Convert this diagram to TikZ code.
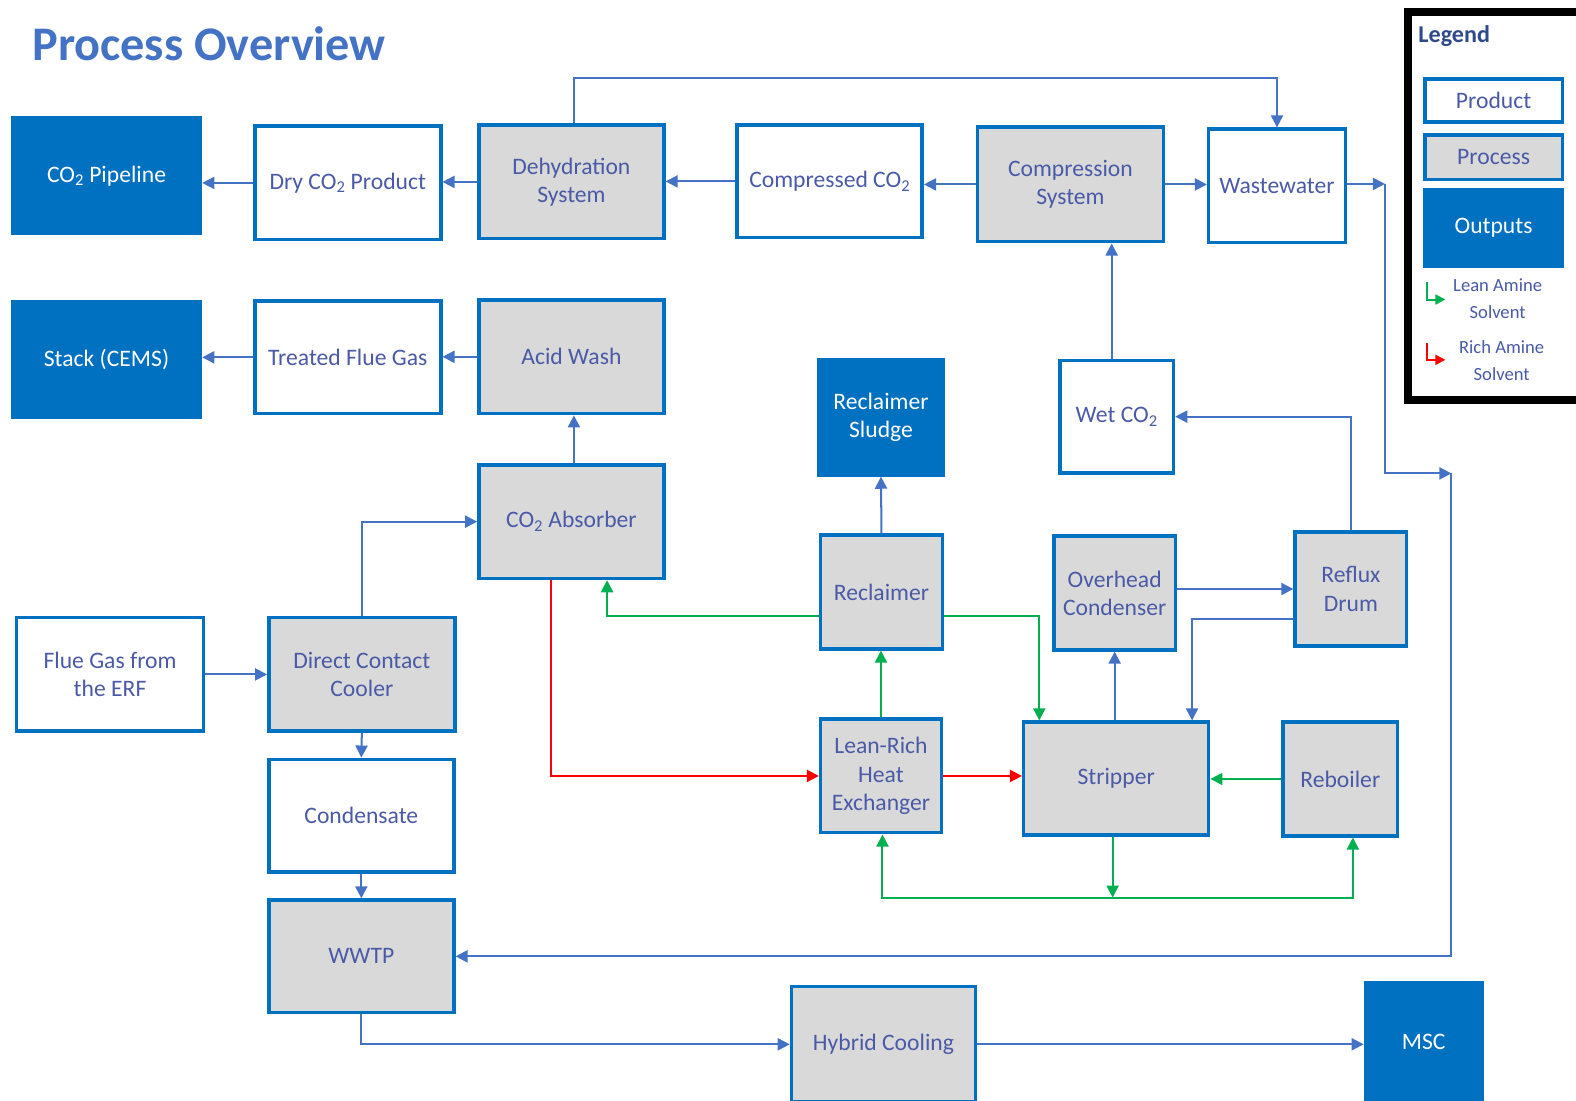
\documentclass[tikz,border=0pt]{standalone}
\usepackage{fontspec}
\setmainfont{Carlito}
\usetikzlibrary{arrows.meta,calc}
\definecolor{boxblue}{HTML}{0070C0}
\definecolor{linkblue}{HTML}{4472C4}
\definecolor{txtblue}{HTML}{4A5AA6}
\definecolor{procgray}{HTML}{D9D9D9}
\definecolor{leangreen}{HTML}{00B050}
\definecolor{richred}{HTML}{FF0000}
\definecolor{titleblue}{HTML}{4472C4}
\definecolor{legdark}{HTML}{2F4A8A}
\begin{document}
\begin{tikzpicture}[x=1pt,y=-1pt,
  base/.style={draw=boxblue,line width=3.5pt,align=center,text=txtblue,inner sep=0pt,
    font=\fontsize{23.5}{28}\selectfont},
  prodbox/.style={base,fill=white},
  procbox/.style={base,fill=procgray},
  outbox/.style={base,fill=boxblue,text=white},
  tip/.style={-{Triangle[length=12pt,width=12pt]}},
  conn/.style={draw=linkblue,line width=2pt,tip},
  gconn/.style={draw=leangreen,line width=2pt,tip},
  rconn/.style={draw=richred,line width=2pt,tip},
  legtxt/.style={align=center,text=txtblue,inner sep=0pt,font=\fontsize{18.5}{27}\selectfont}]
\useasboundingbox (0,0) rectangle (1568,1095);
\fill[white] (0,0) rectangle (1568,1095);

% title
\node[anchor=west,inner sep=0pt,text=titleblue,font=\fontsize{48}{52}\selectfont\bfseries] (title) at (32,44) {Process Overview};

% top row
\node[outbox,minimum width=187pt,minimum height=115pt] (pipe) at (106,175) {CO\textsubscript{2} Pipeline};
\node[prodbox,minimum width=185pt,minimum height=113pt] (dry) at (346,182) {Dry CO\textsubscript{2} Product};
\node[procbox,minimum width=184pt,minimum height=113pt] (dehyd) at (568.5,181) {Dehydration\\System};
\node[prodbox,minimum width=184pt,minimum height=112pt] (comp) at (825.5,180.5) {Compressed CO\textsubscript{2}};
\node[procbox,minimum width=185pt,minimum height=114pt] (compsys) at (1065,183.5) {Compression\\System};
\node[prodbox,minimum width=136pt,minimum height=113pt] (waste) at (1270.5,185) {Wastewater};

% second row
\node[outbox,minimum width=187pt,minimum height=115pt] (stack) at (106,358) {Stack (CEMS)};
\node[prodbox,minimum width=185pt,minimum height=112pt] (treated) at (346,355.5) {Treated Flue Gas};
\node[procbox,minimum width=184pt,minimum height=113pt] (acid) at (568.5,355) {Acid Wash};

\node[procbox,minimum width=184pt,minimum height=113pt] (absorber) at (568.5,519) {CO\textsubscript{2} Absorber};
\node[outbox,minimum width=124pt,minimum height=115pt] (sludge) at (876.5,415) {Reclaimer\\Sludge};
\node[prodbox,minimum width=113pt,minimum height=112pt] (wet) at (1111,414.5) {Wet CO\textsubscript{2}};

\node[procbox,minimum width=121pt,minimum height=113pt] (reclaimer) at (877,589) {Reclaimer};
\node[procbox,minimum width=121pt,minimum height=113pt] (overhead) at (1109,590) {Overhead\\Condenser};
\node[procbox,minimum width=111pt,minimum height=113pt] (reflux) at (1344,586) {Reflux\\Drum};

\node[prodbox,minimum width=186pt,minimum height=113pt] (flue) at (109.5,671) {Flue Gas from\\the ERF};
\node[procbox,minimum width=185pt,minimum height=113pt] (dcc) at (360,671) {Direct Contact\\Cooler};
\node[prodbox,minimum width=184pt,minimum height=112pt] (cond) at (359.5,811.5) {Condensate};
\node[procbox,minimum width=184pt,minimum height=112pt] (wwtp) at (359.5,951.5) {WWTP};

\node[procbox,minimum width=120pt,minimum height=113pt] (lrhx) at (876.5,772) {Lean-Rich\\Heat\\Exchanger};
\node[procbox,minimum width=184pt,minimum height=112pt] (stripper) at (1110.5,774.5) {Stripper};
\node[procbox,minimum width=114pt,minimum height=113pt] (reboiler) at (1333.5,775) {Reboiler};

\node[procbox,minimum width=183pt,minimum height=115pt] (hybrid) at (879,1039) {Hybrid Cooling};
\node[outbox,minimum width=116pt,minimum height=118pt] (msc) at (1416.5,1037) {MSC};

% legend
\draw[black,line width=8pt] (1401,12) rectangle (1590,398);
\node[anchor=west,inner sep=0pt,text=legdark,font=\fontsize{24}{28}\selectfont\bfseries] (legtitle) at (1411,36) {Legend};
\node[prodbox,minimum width=137pt,minimum height=43pt] (lprod) at (1486,100) {Product};
\node[procbox,minimum width=137pt,minimum height=44pt] (lproc) at (1486,156.5) {Process};
\node[outbox,minimum width=137pt,minimum height=76pt] (lout) at (1486,226.5) {Outputs};
\coordinate (lga) at (1420,281);
\coordinate (lgb) at (1438,298);
\draw[leangreen,line width=2pt,-{Triangle[length=10pt,width=10pt]}] (lga) |- (lgb);
\node[legtxt] (lgt) at (1490,297) {Lean Amine\\Solvent};
\coordinate (lra) at (1420,341);
\coordinate (lrb) at (1438,358);
\draw[richred,line width=2pt,-{Triangle[length=10pt,width=10pt]}] (lra) |- (lrb);
\node[legtxt] (lrt) at (1494,359) {Rich Amine\\Solvent};

% blue connectors, top rows
\draw[conn] (dry.west) -- (dry.west -| pipe.east);
\draw[conn] (dehyd.west) -- (dehyd.west -| dry.east);
\draw[conn] (comp.west) -- (comp.west -| dehyd.east);
\draw[conn] (compsys.west) -- (compsys.west -| comp.east);
\draw[conn] (compsys.east) -- (compsys.east -| waste.west);
\draw[conn] ([xshift=2.5pt]dehyd.north) -- ++(0,-45) -| (waste.north);
\draw[conn] (treated.west) -- (treated.west -| stack.east);
\draw[conn] (acid.west) -- (acid.west -| treated.east);
\draw[conn] ([xshift=2.5pt]absorber.north) -- ([xshift=2.5pt]acid.south);
\draw[conn] ([xshift=-5pt]wet.north) -- ([xshift=-5pt]wet.north |- compsys.south);

% wastewater to WWTP
\coordinate (w1) at (1378,183);
\coordinate (w2) at (1444,471);
\draw[conn] (waste.east |- w1) -- (w1);
\draw[conn] (w1) |- (w2);
\draw[conn] (w2) |- (wwtp.east);

% left column
\draw[conn] (flue.east) -- (dcc.west);
\draw[conn] (dcc.north) |- (absorber.west);
\draw[conn] (dcc.south) -- (cond.north);
\draw[conn] (cond.south) -- (wwtp.north);
\draw[conn] (wwtp.south) |- (hybrid.west);
\draw[conn] (hybrid.east) -- (hybrid.east -| msc.west);

% reclaimer / stripper area
\draw[conn] (reclaimer.north) -- (sludge.south);
\draw[conn] (overhead.south |- stripper.north) -- (overhead.south);
\draw[conn] (overhead.east |- reflux.west) -- (reflux.west);
\draw[conn] ([yshift=-30pt]reflux.west) -| ([xshift=75.5pt]stripper.north);
\draw[conn] (reflux.north) |- (wet.east);

% rich amine (red)
\draw[rconn] ([xshift=-20.5pt]absorber.south) |- (lrhx.west);
\draw[rconn] (lrhx.east) -- (lrhx.east -| stripper.west);

% lean amine (green)
\draw[gconn] ([yshift=-24pt]reclaimer.west) -| ([xshift=35.5pt]absorber.south);
\draw[gconn] ([yshift=-24pt]reclaimer.east) -| ([xshift=-76.5pt]stripper.north);
\draw[gconn] (lrhx.north) -- (lrhx.north |- reclaimer.south);
\draw[gconn] (reboiler.west) -- (reboiler.west -| stripper.east);
\coordinate (gbot) at (1107,893);
\draw[gconn] (stripper.south -| gbot) -- (gbot);
\draw[gconn] (gbot) -| ([xshift=1.5pt]lrhx.south);
\draw[gconn] (gbot) -| ([xshift=12.5pt]reboiler.south);
\end{tikzpicture}
\end{document}
